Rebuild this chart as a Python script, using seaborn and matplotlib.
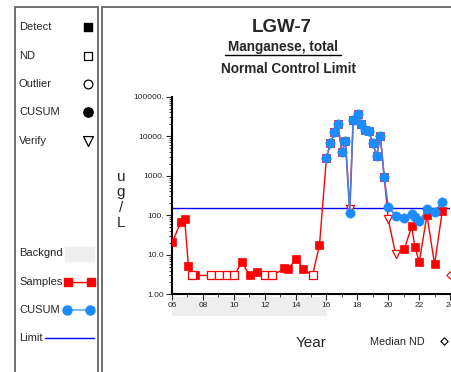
import numpy as np
import pandas as pd
import matplotlib
matplotlib.use("Agg")
import matplotlib.pyplot as plt
from matplotlib.patches import Rectangle
import matplotlib.transforms as mtransforms
from matplotlib.ticker import FixedLocator, FixedFormatter, LogLocator, NullFormatter
import seaborn as sns

sns.set_style("ticks")
plt.rcParams['font.family'] = ['Liberation Sans', 'DejaVu Sans']

# sample data (decimal year, ug/L, flag)
years = [6.02, 6.56, 6.82, 7.06, 7.30, 7.51, 8.51, 9.07, 9.57, 10.04,
         10.52, 11.03, 11.53, 12.03, 12.50, 13.26, 13.52, 14.04, 14.51, 15.10,
         15.55, 16.00, 16.26, 16.52, 16.74, 17.00, 17.23, 17.51, 17.73, 18.03,
         18.25, 18.51, 18.73, 19.00, 19.25, 19.49, 19.74, 20.00, 20.48, 21.04,
         21.52, 21.73, 22.01, 22.51, 23.00, 23.50]
values = [21, 66, 82, 5.3, 3.0, 3.0, 3.0, 3.0, 3.0, 3.0,
          6.5, 3.0, 3.7, 3.0, 3.0, 4.5, 4.3, 8.0, 4.3, 3.0,
          17.7, 2860, 6600, 12500, 20000, 4000, 7400, 140, 26000, 36500,
          20000, 14600, 13800, 6700, 3200, 10000, 930, 79, 10.5, 14,
          52, 15.4, 6.6, 101, 5.7, 127]
flags = ['D', 'D', 'D', 'D', 'N', 'D', 'N', 'N', 'N', 'N',
         'D', 'D', 'D', 'N', 'N', 'D', 'D', 'D', 'D', 'N',
         'D', 'D', 'D', 'D', 'D', 'D', 'D', 'V', 'D', 'D',
         'D', 'D', 'D', 'D', 'D', 'D', 'D', 'V', 'V', 'D',
         'D', 'D', 'D', 'D', 'D', 'D']

# CUSUM series
cusum_years = [16.00, 16.26, 16.52, 16.74, 17.00, 17.23, 17.51, 17.73, 18.03, 18.25,
               18.51, 18.73, 19.00, 19.25, 19.49, 19.74, 20.00, 20.48, 21.04, 21.52,
               21.73, 22.01, 22.51, 23.00, 23.50]
cusum_values = [2860, 6600, 12500, 20000, 4000, 7400, 115, 26000, 36500, 20000,
                14600, 13800, 6700, 3200, 10000, 930, 165, 98, 84, 106,
                92, 70, 147, 123, 220]

limit = 153
median_nd = 3.0
background = (6, 16)

samples = pd.DataFrame({'year': years, 'value': values, 'flag': flags})
cusum = pd.DataFrame({'year': cusum_years, 'value': cusum_values})

red = '#ff0000'
blue = '#1a8cff'

fig = plt.figure(figsize=(4.52, 3.72), dpi=100)

# panel frames
fig.patches.append(Rectangle((15 / 452, -0.1), 83 / 452, 1.1 - 7 / 372, transform=fig.transFigure,
                             fill=False, edgecolor='#666666', linewidth=1.3))
fig.patches.append(Rectangle((102 / 452, -0.1), 1.0, 1.1 - 7 / 372, transform=fig.transFigure,
                             fill=False, edgecolor='#666666', linewidth=1.3))

ax = fig.add_axes([172 / 452, 1 - 294.3 / 372, 278 / 452, 197.6 / 372])

sns.lineplot(data=samples, x='year', y='value', color=red, linewidth=1.0,
             ax=ax, zorder=3, sort=False)
det = samples[samples.flag == 'D']
nd = samples[samples.flag == 'N']
ver = samples[samples.flag == 'V']
sns.scatterplot(data=det, x='year', y='value', marker='s', color=red, s=38,
                edgecolor=red, linewidth=0.5, ax=ax, zorder=4)
sns.scatterplot(data=nd, x='year', y='value', marker='s', color='white', s=32,
                edgecolor=red, linewidth=0.9, ax=ax, zorder=4)
sns.scatterplot(data=ver, x='year', y='value', marker='v', color='white', s=34,
                edgecolor=red, linewidth=0.9, ax=ax, zorder=4)

sns.lineplot(data=cusum, x='year', y='value', color='#4a7fe0', linewidth=1.2,
             ax=ax, zorder=5, sort=False)
sns.scatterplot(data=cusum, x='year', y='value', marker='o', color=blue, s=46,
                edgecolor=blue, linewidth=0.3, ax=ax, zorder=6)

ax.axhline(limit, color='#0000ff', linewidth=1.0, zorder=2)

# median ND marker at right edge
ax.scatter([24], [median_nd], marker='D', s=14, facecolor='white', edgecolor=red,
           linewidth=0.8, clip_on=False, zorder=6)

# background period bar under the axis
trans = mtransforms.blended_transform_factory(ax.transData, ax.transAxes)
ax.add_patch(Rectangle((background[0], -0.105), background[1] - background[0], 0.09,
                       transform=trans, color='#eeeeee', clip_on=False, zorder=0))

ax.set_yscale('log')
ax.set_ylim(1, 100000)
ax.set_xlim(6, 24)
ax.yaxis.set_major_locator(FixedLocator([1, 10, 100, 1000, 10000, 100000]))
ax.yaxis.set_major_formatter(FixedFormatter(['1.00', '10.0', '100.', '1000.', '10000.', '100000.']))
ax.yaxis.set_minor_locator(LogLocator(base=10, subs=np.arange(2, 10)))
ax.yaxis.set_minor_formatter(NullFormatter())
xt = list(range(6, 25, 2))
ax.set_xticks(xt)
ax.set_xticklabels([f"{t:02d}" for t in xt])
ax.set_xticks(list(range(7, 25, 2)), minor=True)
ax.tick_params(axis='both', which='major', labelsize=6, length=4, width=0.8, pad=1.5)
ax.tick_params(axis='both', which='minor', length=2, width=0.6)
ax.set_xlabel('')
ax.set_ylabel('')
ax.set_facecolor('none')
sns.despine(ax=ax)
for s in ('left', 'bottom'):
    ax.spines[s].set_linewidth(1.5)
    ax.spines[s].set_color('black')

# overlay for titles and legend panel (pixel coordinates)
lax = fig.add_axes([0, 0, 1, 1], zorder=-1)
lax.set_xlim(0, 452)
lax.set_ylim(372, 0)
lax.axis('off')

lax.text(282, 27, 'LGW-7', ha='center', va='center', fontsize=13.5, fontweight='bold')
lax.text(283, 47, 'Manganese, total', ha='center', va='center', fontsize=9.8, fontweight='bold')
lax.plot([225, 341], [55, 55], color='black', linewidth=1.0)
lax.text(289, 69, 'Normal Control Limit', ha='center', va='center', fontsize=9.8, fontweight='bold')

lax.text(121, 200, 'u\ng\n/\nL', ha='center', va='center', fontsize=11, linespacing=1.1)
lax.text(311, 343, 'Year', ha='center', va='center', fontsize=11)
lax.text(397, 342, 'Median ND', ha='center', va='center', fontsize=7.8)
lax.scatter([444], [341], marker='D', s=14, facecolor='white', edgecolor='black', linewidth=0.8)

fs = 8
items = [('Detect', 27, dict(marker='s', s=40, facecolor='black', edgecolor='black')),
         ('ND', 56, dict(marker='s', s=40, facecolor='white', edgecolor='black', linewidth=0.9)),
         ('Outlier', 84, dict(marker='o', s=40, facecolor='white', edgecolor='black', linewidth=0.9)),
         ('CUSUM', 112, dict(marker='o', s=45, facecolor='black', edgecolor='black')),
         ('Verify', 141, dict(marker='v', s=50, facecolor='white', edgecolor='black', linewidth=0.9))]
for label, yy, kw in items:
    lax.text(19, yy, label, ha='left', va='center', fontsize=fs)
    lax.scatter([88], [yy], **kw)

lax.text(19, 253, 'Backgnd', ha='left', va='center', fontsize=fs)
lax.add_patch(Rectangle((65, 247), 29, 14, color='#eeeeee'))
lax.text(19, 282, 'Samples', ha='left', va='center', fontsize=fs)
lax.plot([68, 91], [282, 282], color=red, linewidth=1.0, marker='s', markersize=6)
lax.text(19, 310, 'CUSUM', ha='left', va='center', fontsize=fs)
lax.plot([67, 90], [310, 310], color='#5aabf5', linewidth=1.2)
lax.plot([67, 90], [310, 310], linestyle='none', color=blue, marker='o', markersize=6.5)
lax.text(19, 338, 'Limit', ha='left', va='center', fontsize=fs)
lax.plot([45, 94], [338, 338], color='#0000ff', linewidth=1.0)

fig.savefig('out.png', dpi=100)
